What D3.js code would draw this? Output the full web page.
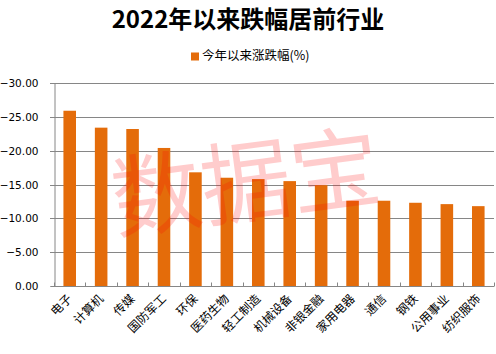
<!DOCTYPE html>
<html>
<head>
<meta charset="utf-8">
<script src="https://cdn.jsdelivr.net/npm/d3@7"></script>
<style>
  body { margin: 0; background: #fff; }
  svg { display: block; }
</style>
</head>
<body>
<script>
const categories = ["电子", "计算机", "传媒", "国防军工", "环保", "医药生物", "轻工制造",
    "机械设备", "非银金融", "家用电器", "通信", "钢铁", "公用事业", "纺织服饰"];
const values = [-25.9, -23.4, -23.2, -20.4, -16.8, -16.0, -15.8, -15.5, -14.9, -12.6, -12.6, -12.3, -12.1, -11.8];
const yTicks = [0, -5, -10, -15, -20, -25, -30];
const seriesName = "今年以来涨跌幅(%)";

const width = 496, height = 354;
const margin = { top: 83, right: 2, bottom: 68, left: 54 };
const sans = "'Noto Sans CJK SC', 'Noto Sans', sans-serif";

const svg = d3.select("body").append("svg")
    .attr("width", width)
    .attr("height", height);

// title
svg.append("text")
    .attr("x", 248).attr("y", 28)
    .attr("text-anchor", "middle")
    .attr("font-family", sans)
    .attr("font-weight", "bold")
    .attr("font-size", 24)
    .attr("fill", "#000")
    .text("2022年以来跌幅居前行业");

// legend
svg.append("rect").attr("x", 191).attr("y", 52.5).attr("width", 8).attr("height", 8).attr("fill", "#e46c0a");
svg.append("text")
    .attr("x", 202).attr("y", 60)
    .attr("font-family", sans)
    .attr("font-size", 12.5)
    .attr("fill", "#000")
    .text(seriesName);

// scales
let x = d3.scaleBand()
    .domain(categories)
    .range([margin.left, width - margin.right])
    .paddingInner(0.6)
    .paddingOuter(0.3);

let y = d3.scaleLinear()
    .domain([0, -30])
    .range([height - margin.bottom, margin.top]);

// gridlines
svg.append("g")
    .selectAll("line")
    .data(yTicks.filter(d => d !== 0))
    .enter().append("line")
    .attr("x1", margin.left - 4).attr("x2", width - margin.right)
    .attr("y1", d => Math.round(y(d)) + 0.5).attr("y2", d => Math.round(y(d)) + 0.5)
    .attr("stroke", "#868686");

// bars
svg.append("g")
    .selectAll("rect")
    .data(values)
    .enter().append("rect")
    .attr("x", (d, i) => x(categories[i]))
    .attr("width", x.bandwidth())
    .attr("y", d => y(d))
    .attr("height", d => y(0) - y(d))
    .attr("fill", "#e46c0a");

// watermark
svg.append("text")
    .attr("transform", "translate(250,215) rotate(-7.5)")
    .attr("text-anchor", "middle")
    .attr("font-family", sans)
    .attr("font-size", 90)
    .attr("fill", "rgba(255,0,0,0.2)")
    .text("数据宝");

// y axis
let yAxis = d3.axisLeft(y).tickValues(yTicks).tickFormat(d3.format(".2f")).tickSize(4);
let gy = svg.append("g")
    .attr("transform", `translate(${margin.left + 0.5},0)`)
    .call(yAxis);
gy.select(".domain").attr("stroke", "#868686");
gy.selectAll(".tick line").attr("stroke", "#868686");
gy.selectAll(".tick text")
    .attr("x", -16)
    .attr("font-family", "'DejaVu Sans', sans-serif")
    .attr("font-size", 10.5)
    .attr("fill", "#000");
gy.selectAll(".tick").attr("transform", d => `translate(0,${Math.round(y(d)) + 0.5})`);

// x axis
const step = x.step();
let gx = svg.append("g").attr("transform", `translate(0,${height - margin.bottom + 0.5})`);
gx.append("line")
    .attr("x1", margin.left).attr("x2", width - margin.right)
    .attr("stroke", "#868686");
gx.selectAll(".sep")
    .data(d3.range(categories.length + 1))
    .enter().append("line")
    .attr("class", "sep")
    .attr("x1", i => Math.round(margin.left + i * step) + 0.5)
    .attr("x2", i => Math.round(margin.left + i * step) + 0.5)
    .attr("y1", -4).attr("y2", 0)
    .attr("stroke", "#868686");
gx.selectAll(".lbl")
    .data(categories)
    .enter().append("text")
    .attr("class", "lbl")
    .attr("transform", d => `translate(${x(d) + x.bandwidth() / 2 + 3},${13}) rotate(-45)`)
    .attr("text-anchor", "end")
    .attr("font-family", sans)
    .attr("font-size", 12)
    .attr("fill", "#000")
    .text(d => d);
</script>
</body>
</html>
